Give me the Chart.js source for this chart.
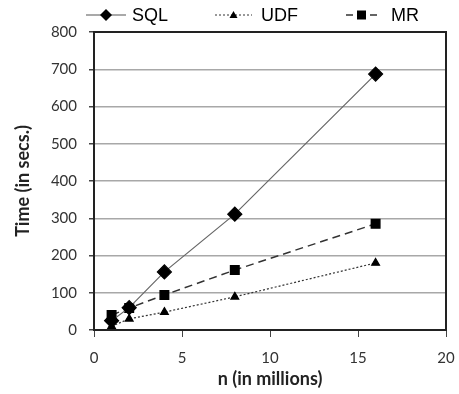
<!DOCTYPE html>
<html>
<head>
<meta charset="utf-8">
<script src="https://cdn.jsdelivr.net/npm/chart.js@4"></script>
<style>
  html, body { margin: 0; padding: 0; background: #fff; }
  #wrap { width: 459px; height: 394px; position: relative; }
</style>
</head>
<body>
<div id="wrap"><canvas id="chart" width="459" height="394"></canvas></div>
<script>
// values
const nValues = [1, 2, 4, 8, 16];
const sqlTimes = [25, 60, 156, 311, 687];
const udfTimes = [10, 30, 48, 89, 180];
const mrTimes = [40, 59, 94, 161, 285];
const xTicks = [0, 5, 10, 15, 20];
const yTicks = [0, 100, 200, 300, 400, 500, 600, 700, 800];

const FONT = "'Liberation Sans', Arial, sans-serif";
const AXIS_FONT = "Lato, 'Open Sans', sans-serif";

function toPoints(ys) {
  return nValues.map((x, i) => ({ x: x, y: ys[i] }));
}

// frame around the plot area + hand drawn legend with line styles
const framePlugin = {
  id: 'frame',
  afterDraw(chart) {
    const { ctx, chartArea: a } = chart;
    ctx.save();
    ctx.strokeStyle = '#222';
    ctx.lineWidth = 2;
    ctx.strokeRect(a.left, a.top, a.right - a.left, a.bottom - a.top);

    const items = [
      { label: 'SQL', x0: 86, x1: 126, tx: 132, dash: [], color: '#555', w: 1.2, shape: 'diamond' },
      { label: 'UDF', x0: 215, x1: 252, tx: 261, dash: [2, 2], color: '#333', w: 1, shape: 'triangle' },
      { label: 'MR', x0: 346, x1: 377, tx: 391, dash: [7, 5], color: '#333', w: 1.4, shape: 'square' }
    ];
    const y = 15;
    items.forEach(it => {
      ctx.setLineDash(it.dash);
      ctx.strokeStyle = it.color;
      ctx.lineWidth = it.w;
      ctx.beginPath();
      ctx.moveTo(it.x0, y);
      ctx.lineTo(it.x1, y);
      ctx.stroke();
      ctx.setLineDash([]);
      const cx = (it.x0 + it.x1) / 2;
      ctx.fillStyle = '#000';
      ctx.beginPath();
      if (it.shape === 'diamond') {
        ctx.moveTo(cx, y - 6); ctx.lineTo(cx + 6, y); ctx.lineTo(cx, y + 6); ctx.lineTo(cx - 6, y);
      } else if (it.shape === 'triangle') {
        ctx.moveTo(cx, y - 4); ctx.lineTo(cx + 4, y + 3); ctx.lineTo(cx - 4, y + 3);
      } else {
        ctx.rect(cx - 4.5, y - 4.5, 9, 9);
      }
      ctx.closePath();
      ctx.fill();
      ctx.font = '18px ' + FONT;
      ctx.textBaseline = 'middle';
      ctx.fillText(it.label, it.tx, y + 1);
    });
    ctx.restore();
  }
};

new Chart(document.getElementById('chart'), {
  type: 'scatter',
  data: {
    datasets: [
      {
        label: 'SQL',
        data: toPoints(sqlTimes),
        showLine: true,
        borderColor: '#666',
        borderWidth: 1.2,
        pointStyle: 'rectRot',
        pointRadius: 7,
        pointBackgroundColor: '#000',
        pointBorderColor: '#000'
      },
      {
        label: 'UDF',
        data: toPoints(udfTimes),
        showLine: true,
        borderColor: '#333',
        borderWidth: 1.2,
        borderDash: [2, 2],
        pointStyle: 'triangle',
        pointRadius: 4.5,
        pointBackgroundColor: '#000',
        pointBorderColor: '#000'
      },
      {
        label: 'MR',
        data: toPoints(mrTimes),
        showLine: true,
        borderColor: '#333',
        borderWidth: 1.5,
        borderDash: [8, 5],
        pointStyle: 'rect',
        pointRadius: 6,
        pointBackgroundColor: '#000',
        pointBorderColor: '#000'
      }
    ]
  },
  options: {
    responsive: false,
    animation: false,
    layout: { padding: { top: 32, right: 13, left: 8, bottom: 0 } },
    plugins: { legend: { display: false }, tooltip: { enabled: false } },
    scales: {
      x: {
        type: 'linear',
        min: 0,
        max: 20,
        afterBuildTicks: (s) => { s.ticks = xTicks.map(v => ({ value: v })); },
        afterFit: (s) => { s.height = 64; s.paddingLeft = 0; s.paddingRight = 0; },
        grid: { drawOnChartArea: false, tickLength: 7, color: '#444' },
        border: { color: '#222', width: 2 },
        ticks: { color: '#333', font: { family: AXIS_FONT, size: 15 }, padding: 12 },
        title: { display: true, text: 'n (in millions)', color: '#222', font: { family: AXIS_FONT, size: 18, weight: 'bold' }, padding: { top: 0 } }
      },
      y: {
        min: 0,
        max: 800,
        afterBuildTicks: (s) => { s.ticks = yTicks.map(v => ({ value: v })); },
        afterFit: (s) => { s.width = 86; s.paddingTop = 0; s.paddingBottom = 0; },
        grid: { color: '#a8a8a8', lineWidth: 1.5, tickLength: 5, tickColor: '#444' },
        border: { color: '#222', width: 2 },
        ticks: { color: '#333', font: { family: AXIS_FONT, size: 15 }, padding: 12 },
        title: { display: true, text: 'Time (in secs.)', color: '#222', font: { family: AXIS_FONT, size: 18, weight: 'bold' }, padding: { top: 4 } }
      }
    }
  },
  plugins: [framePlugin]
});
</script>
</body>
</html>
